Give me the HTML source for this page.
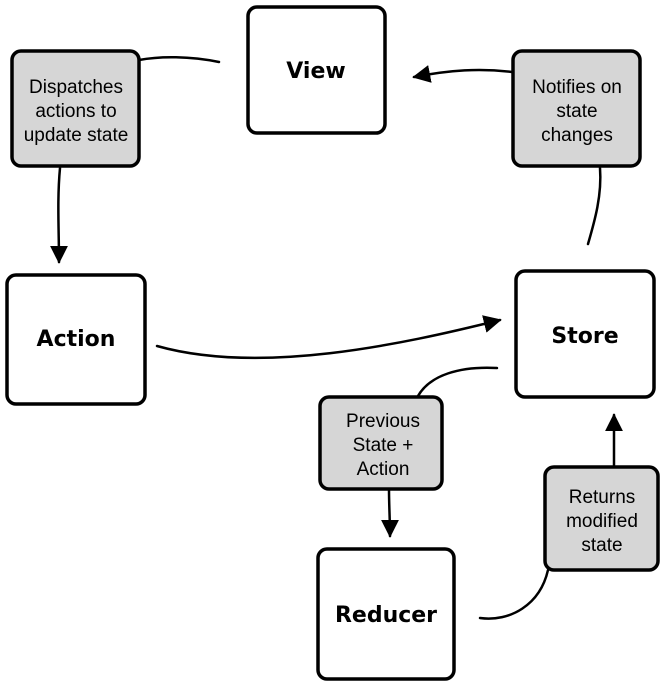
<!DOCTYPE html>
<html><head><meta charset="utf-8"><style>
html,body{margin:0;padding:0;background:#fff;}
svg{display:block;}
.b{fill:#fff;stroke:#000;stroke-width:3.5;}
.g{fill:#d6d6d6;stroke:#000;stroke-width:3.5;}
.t{font-family:"DejaVu Sans","Liberation Sans",sans-serif;font-weight:bold;font-size:22px;text-anchor:middle;}
.s{font-family:"Liberation Sans",sans-serif;font-size:19px;text-anchor:middle;}
.l{fill:none;stroke:#000;stroke-width:2.5;stroke-linecap:round;}
</style></head><body>
<svg width="672" height="684" viewBox="0 0 672 684" xmlns="http://www.w3.org/2000/svg">
<defs>
<marker id="ah" viewBox="0 0 10 10" markerWidth="18" markerHeight="18" refX="9" refY="5" orient="auto" markerUnits="userSpaceOnUse"><path d="M0,0 L10,5 L0,10 z"/></marker></defs>
<path class="l" d="M219,62 C190,56 160,56 139,60"/>
<path class="l" d="M60,168 C57,200 59,230 59,262" marker-end="url(#ah)"/>
<path class="l" d="M157,346 C260,375 400,345 500,320" marker-end="url(#ah)"/>
<path class="l" d="M588,244 C595,220 602,195 600,168"/>
<path class="l" d="M512,72 C480,68 450,70 414,77" marker-end="url(#ah)"/>
<path class="l" d="M497,368 C460,366 430,375 418,396"/>
<path class="l" d="M389,490 C389,505 390,520 390,536" marker-end="url(#ah)"/>
<path class="l" d="M480,618 C510,622 540,605 548,570"/>
<path class="l" d="M614,465 C614,450 614,435 614,415" marker-end="url(#ah)"/>
<rect class="b" x="248" y="7" width="137" height="126" rx="9"/>
<text class="t" x="316" y="78">View</text>
<rect class="b" x="7" y="275" width="138" height="129" rx="9"/>
<text class="t" x="76" y="346">Action</text>
<rect class="b" x="516" y="271" width="138" height="126" rx="9"/>
<text class="t" x="585" y="343">Store</text>
<rect class="b" x="318" y="549" width="136" height="130" rx="9"/>
<text class="t" x="386" y="622">Reducer</text>
<rect class="g" x="12" y="51" width="127" height="115" rx="9"/>
<text class="s" x="76" y="93">Dispatches</text>
<text class="s" x="76" y="117">actions to</text>
<text class="s" x="76" y="141">update state</text>
<rect class="g" x="513" y="51" width="127" height="115" rx="9"/>
<text class="s" x="577" y="93">Notifies on</text>
<text class="s" x="577" y="117">state</text>
<text class="s" x="577" y="141">changes</text>
<rect class="g" x="320" y="397" width="122" height="92" rx="9"/>
<text class="s" x="383" y="427">Previous</text>
<text class="s" x="383" y="451">State +</text>
<text class="s" x="383" y="475">Action</text>
<rect class="g" x="545" y="467" width="113" height="103" rx="9"/>
<text class="s" x="602" y="503">Returns</text>
<text class="s" x="602" y="527">modified</text>
<text class="s" x="602" y="551">state</text>
</svg>
</body></html>
